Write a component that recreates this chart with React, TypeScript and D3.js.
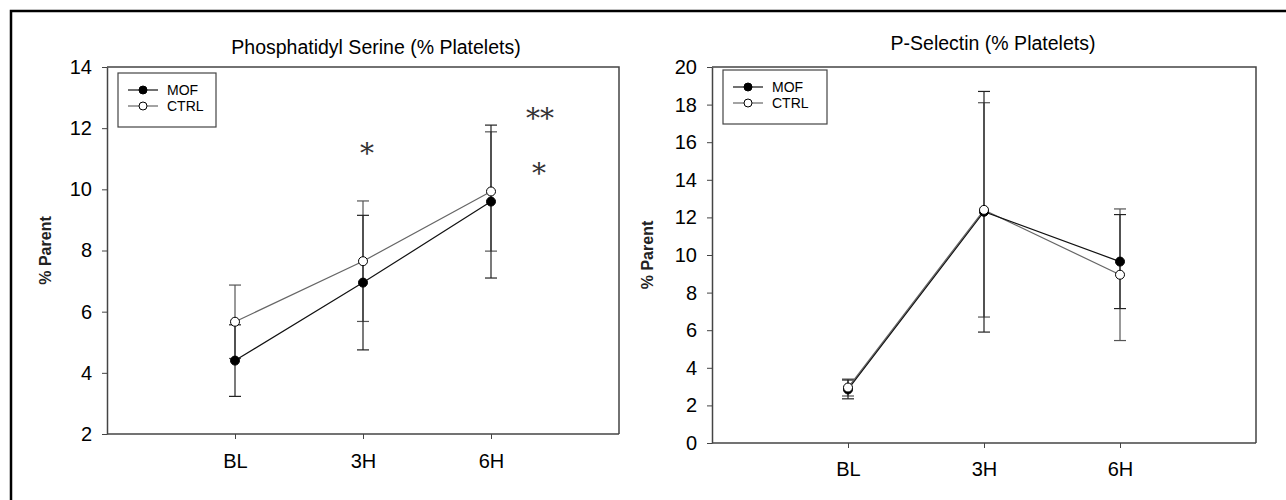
import React, { useRef, useEffect } from 'react';
import * as d3 from 'd3';

const times = ['BL', '3H', '6H'];

// Phosphatidyl Serine panel
const psMof = [4.4, 6.95, 9.6];
const psMofErr = [1.17, 2.2, 2.5];
const psCtrl = [5.67, 7.65, 9.93];
const psCtrlErr = [1.2, 1.97, 1.95];
const psTicks = [2, 4, 6, 8, 10, 12, 14];

// P-Selectin panel
const selMof = [2.85, 12.3, 9.65];
const selMofErr = [0.5, 6.4, 2.5];
const selCtrl = [2.95, 12.4, 8.95];
const selCtrlErr = [0.45, 5.7, 3.5];
const selTicks = [0, 2, 4, 6, 8, 10, 12, 14, 16, 18, 20];

const seriesNames = ['MOF', 'CTRL'];

const FONT = '"Liberation Sans", Arial, sans-serif';

type PanelOpts = {
  title: string;
  left: number; right: number; top: number; bottom: number;
  domain: [number, number];
  ticks: number[];
  mof: number[]; mofErr: number[];
  ctrl: number[]; ctrlErr: number[];
  legend: { x: number; y: number; w: number; h: number };
  titleY: number; titleX: number;
  labelX: number;
  xPad: number;
  stars?: { x: number; y: number; t: string }[];
};

function drawPanel(svg: d3.Selection<SVGSVGElement, unknown, null, undefined>, o: PanelOpts) {
  const g = svg.append('g');
  const x = d3.scalePoint<string>().domain(times).range([o.left, o.right]).padding(1);
  const y = d3.scaleLinear().domain(o.domain).range([o.bottom, o.top]);

  // frame (top/right)
  g.append('path')
    .attr('d', `M${o.left},${o.top}H${o.right}V${o.bottom}`)
    .attr('fill', 'none').attr('stroke', '#444').attr('stroke-width', 1.5);

  const yAxis = g.append('g').attr('transform', `translate(${o.left},0)`)
    .call(d3.axisLeft(y).tickValues(o.ticks).tickSize(5).tickPadding(10).tickSizeOuter(0));
  const xAxis = g.append('g').attr('transform', `translate(0,${o.bottom})`)
    .call(d3.axisBottom(x).tickSize(5).tickPadding(o.xPad).tickSizeOuter(0));
  // extend x domain line to full frame width
  xAxis.select('.domain').attr('d', `M${o.left},0H${o.right}`);
  [yAxis, xAxis].forEach(a => {
    a.select('.domain').attr('stroke', '#444').attr('stroke-width', 1.5);
    a.selectAll('line').attr('stroke', '#444');
    a.selectAll('text').attr('font-family', FONT).attr('font-size', 20).attr('fill', '#000');
  });

  g.append('text')
    .attr('x', o.titleX).attr('y', o.titleY)
    .attr('text-anchor', 'middle')
    .attr('font-family', FONT).attr('font-size', 19.5)
    .text(o.title);

  g.append('text')
    .attr('transform', `translate(${o.labelX},${(o.top + o.bottom) / 2}) rotate(-90)`)
    .attr('text-anchor', 'middle')
    .attr('font-family', FONT).attr('font-size', 16)
    .attr('font-weight', 'bold').attr('fill', '#222')
    .text('% Parent');

  const line = d3.line<number>().x((_, i) => x(times[i])!).y(d => y(d));

  const series = [
    { vals: o.ctrl, errs: o.ctrlErr, stroke: '#666', fill: '#fff', errStroke: '#555' },
    { vals: o.mof, errs: o.mofErr, stroke: '#111', fill: '#000', errStroke: '#222' },
  ];

  series.forEach(s => {
    const eb = g.append('g');
    s.vals.forEach((v, i) => {
      const cx = x(times[i])!;
      const lo = y(v - s.errs[i]);
      const hi = y(v + s.errs[i]);
      eb.append('line').attr('x1', cx).attr('x2', cx).attr('y1', lo).attr('y2', hi)
        .attr('stroke', s.errStroke).attr('stroke-width', 1.2);
      [lo, hi].forEach(yy => eb.append('line')
        .attr('x1', cx - 6).attr('x2', cx + 6).attr('y1', yy).attr('y2', yy)
        .attr('stroke', s.errStroke).attr('stroke-width', 1.2));
    });
  });

  series.forEach(s => {
    g.append('path').datum(s.vals).attr('d', line)
      .attr('fill', 'none').attr('stroke', s.stroke).attr('stroke-width', 1.2);
  });
  series.slice().reverse().forEach(s => {
    g.selectAll(null).data(s.vals).enter().append('circle')
      .attr('cx', (_, i) => x(times[i])!).attr('cy', d => y(d)).attr('r', 4.5)
      .attr('fill', s.fill).attr('stroke', '#000').attr('stroke-width', 1);
  });

  // legend
  const L = o.legend;
  const lg = g.append('g').attr('transform', `translate(${L.x},${L.y})`);
  lg.append('rect').attr('width', L.w).attr('height', L.h)
    .attr('fill', '#fff').attr('stroke', '#444').attr('stroke-width', 1.2);
  seriesNames.forEach((name, i) => {
    const yy = 17 + i * 16;
    const filled = i === 0;
    lg.append('line').attr('x1', 10).attr('x2', 40).attr('y1', yy).attr('y2', yy)
      .attr('stroke', filled ? '#111' : '#666').attr('stroke-width', 1.2);
    lg.append('circle').attr('cx', 25).attr('cy', yy).attr('r', 4)
      .attr('fill', filled ? '#000' : '#fff').attr('stroke', '#000');
    lg.append('text').attr('x', 49).attr('y', yy + 5)
      .attr('font-family', FONT).attr('font-size', 14).text(name);
  });

  (o.stars || []).forEach(s => {
    g.append('text').attr('x', s.x).attr('y', s.y)
      .attr('text-anchor', 'middle')
      .attr('font-family', '"DejaVu Serif", serif').attr('font-size', 28)
      .attr('fill', '#333').text(s.t);
  });
}

export default function App() {
  const ref = useRef<SVGSVGElement>(null);

  useEffect(() => {
    if (!ref.current) return;
    const svg = d3.select(ref.current);
    svg.selectAll('*').remove();

    svg.append('rect').attr('width', 1286).attr('height', 500).attr('fill', '#fff');
    // outer border
    svg.append('path').attr('d', 'M11,500V11H1286')
      .attr('fill', 'none').attr('stroke', '#000').attr('stroke-width', 2.5);

    drawPanel(svg, {
      title: 'Phosphatidyl Serine (% Platelets)',
      left: 107, right: 619, top: 67, bottom: 434,
      domain: [2, 14], ticks: psTicks,
      mof: psMof, mofErr: psMofErr, ctrl: psCtrl, ctrlErr: psCtrlErr,
      legend: { x: 118, y: 73, w: 98, h: 54 },
      titleY: 54, titleX: 376,
      labelX: 51,
      xPad: 15,
      stars: [
        { x: 367, y: 163, t: '*' },
        { x: 540, y: 128, t: '**' },
        { x: 539, y: 183, t: '*' },
      ],
    });

    drawPanel(svg, {
      title: 'P-Selectin (% Platelets)',
      left: 712, right: 1256, top: 67, bottom: 443,
      domain: [0, 20], ticks: selTicks,
      mof: selMof, mofErr: selMofErr, ctrl: selCtrl, ctrlErr: selCtrlErr,
      legend: { x: 723, y: 70, w: 104, h: 54 },
      titleY: 50, titleX: 993,
      labelX: 653,
      xPad: 14,
    });
  }, []);

  return (
    <svg ref={ref} width={1286} height={500}
      style={{ position: 'absolute', left: 0, top: 0, display: 'block' }} />
  );
}
